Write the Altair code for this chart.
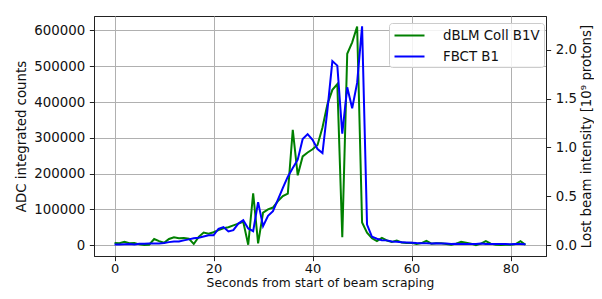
import altair as alt
import pandas as pd

seconds = list(range(84))

dblm = [6000, 5000, 9000, 5000, 6000, 2000, 0, 1000, 17000, 11000,
        6500, 17000, 22000, 19000, 20000, 18000, 3000, 23000, 35000, 32000,
        36000, 42000, 47000, 50000, 55000, 60000, 65000, 1000, 145000, 5000,
        91000, 100000, 105000, 123000, 137000, 144000, 322000, 195000, 248000, 259000,
        268000, 280000, 329000, 394000, 434000, 450000, 22000, 535000, 567000, 611000,
        63000, 35000, 19000, 11000, 20000, 13000, 9000, 13000, 7500, 5600,
        6500, 3000, 5600, 12000, 4000, 5000, 5000, 3000, 1000, 4000,
        9000, 6500, 4000, 0, 4000, 11000, 4000, 1000, 0, 1000,
        1000, 3000, 11000, 1000]

fbct = [0.007, 0.007, 0.008, 0.010, 0.007, 0.014, 0.014, 0.015, 0.015, 0.016,
        0.020, 0.030, 0.037, 0.037, 0.048, 0.058, 0.070, 0.075, 0.088, 0.100,
        0.100, 0.167, 0.184, 0.140, 0.153, 0.220, 0.255, 0.170, 0.143, 0.440,
        0.194, 0.300, 0.347, 0.466, 0.585, 0.700, 0.790, 0.874, 1.085, 1.136,
        1.078, 0.983, 0.942, 1.384, 1.884, 1.837, 1.140, 1.615, 1.400, 1.660,
        2.240, 0.210, 0.085, 0.065, 0.050, 0.048, 0.037, 0.034, 0.030, 0.027,
        0.024, 0.020, 0.018, 0.018, 0.016, 0.018, 0.015, 0.015, 0.012, 0.014,
        0.010, 0.012, 0.012, 0.010, 0.015, 0.012, 0.010, 0.010, 0.012, 0.010,
        0.008, 0.010, 0.010, 0.008]

series_names = ["dBLM Coll B1V", "FBCT B1"]
series_colors = ["#008000", "#0000ff"]

x_ticks = [0, 20, 40, 60, 80]
left_ticks = [0, 100000, 200000, 300000, 400000, 500000, 600000]
right_ticks = [0.0, 0.5, 1.0, 1.5, 2.0]

df_g = pd.DataFrame({"t": seconds, "v": dblm, "series": series_names[0]})
df_b = pd.DataFrame({"t": seconds, "v": fbct, "series": series_names[1]})

FONT = "DejaVu Sans"
FS = 13.33

x_enc = alt.X("t:Q", scale=alt.Scale(domain=[-4.15, 87.15], nice=False, zero=False),
              axis=alt.Axis(values=x_ticks, title="Seconds from start of beam scraping",
                            grid=True, format="d", labelPadding=2, titlePadding=1,
                            labelFontSize=13, titleFontSize=12.3))

color_enc = alt.Color("series:N",
                      scale=alt.Scale(domain=series_names, range=series_colors),
                      legend=alt.Legend(title=None, orient="none", legendX=295, legendY=7,
                                        symbolType="M-2,0H2", symbolStrokeWidth=2,
                                        symbolSize=225, symbolOffset=8,
                                        labelFontSize=FS, labelFont=FONT, labelColor="#111111",
                                        fillColor="rgba(255,255,255,0.85)", strokeColor="#cccccc",
                                        padding=4, cornerRadius=3, rowPadding=6,
                                        labelOffset=25))

green = alt.Chart(df_g).mark_line(strokeWidth=2).encode(
    x=x_enc,
    y=alt.Y("v:Q", scale=alt.Scale(domain=[-30500, 640500], nice=False, zero=False),
            axis=alt.Axis(values=left_ticks, format="d", title="ADC integrated counts",
                          grid=True, orient="left", titlePadding=5)),
    color=color_enc,
)

blue = alt.Chart(df_b).mark_line(strokeWidth=2).encode(
    x=x_enc,
    y=alt.Y("v:Q", scale=alt.Scale(domain=[-0.112, 2.345], nice=False, zero=False),
            axis=alt.Axis(values=right_ticks, format=".1f",
                          title="Lost beam intensity [10⁹ protons]",
                          grid=False, orient="right", titleAngle=270,
                          titleBaseline="top", titlePadding=3)),
    color=color_enc,
)

chart = alt.layer(green, blue).resolve_scale(y="independent").properties(
    width=452, height=240,
    autosize=alt.AutoSizeParams(type="none"),
    padding={"left": 86, "top": 8, "right": 48, "bottom": 35},
).configure_view(
    stroke="#222222", strokeWidth=1
).configure_axis(
    labelFont=FONT, titleFont=FONT, labelFontSize=FS, titleFontSize=FS,
    labelColor="#111111", titleColor="#111111", titleFontWeight="normal",
    tickColor="#222222", tickSize=4.67, tickWidth=1, domainColor="#222222",
    gridColor="#b0b0b0", gridWidth=1, labelPadding=4.67,
)

chart.save("out.html", embed_options={"renderer": "svg", "actions": False})
